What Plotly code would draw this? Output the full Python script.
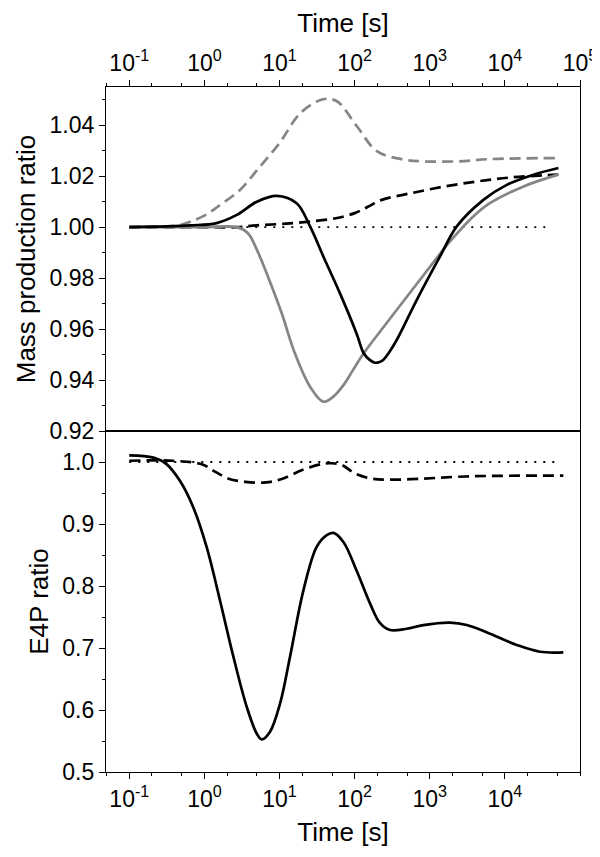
import plotly.graph_objects as go

# ---------------- data ----------------
# Top panel: mass production ratio
t_gray_dash = [0.1, 0.3, 0.5, 0.7, 1.0, 1.5, 3, 5.5, 10, 19, 38, 58, 107, 200, 450, 820, 2300, 6400, 50000]
v_gray_dash = [1.000, 1.0003, 1.001, 1.0025, 1.0045, 1.008, 1.0147, 1.0238, 1.033, 1.0448, 1.0502, 1.0494,
               1.0396, 1.0297, 1.0265, 1.0258, 1.0258, 1.0267, 1.0271]

t_black_solid = [0.1, 0.65, 1.45, 2.7, 5.0, 9.2, 16.9, 25.5, 38.3, 63.8, 106, 132, 160, 187, 215,
                 240, 290, 363, 670, 1370, 2290, 5180, 10600, 24000, 51600]
v_black_solid = [1.000, 1.0007, 1.0016, 1.0048, 1.010, 1.0123, 1.0094, 1.0003, 0.9885, 0.974, 0.9583,
                 0.9505, 0.9478, 0.9468, 0.9471, 0.9479, 0.9510, 0.9557, 0.9714, 0.9885, 1.0003,
                 1.0107, 1.0166, 1.0206, 1.0232]

t_gray_solid = [0.1, 1.0, 2.7, 3.8, 5.0, 7.3, 10.7, 16.0, 25.5, 38.3, 52, 71, 95, 132, 240, 490,
                1000, 1860, 3800, 6300, 17800, 51300]
v_gray_solid = [1.000, 1.000, 1.000, 0.9976, 0.9911, 0.9793, 0.9662, 0.9505, 0.9374, 0.9315, 0.9335,
                0.938, 0.9439, 0.9505, 0.9606, 0.9725, 0.9843, 0.9944, 1.0042, 1.0094, 1.016, 1.0206]

t_black_dash = [0.1, 1.0, 2.7, 5.0, 11.0, 25.0, 56, 100, 150, 230, 580, 1600, 4400, 12000, 51600]
v_black_dash = [1.000, 1.000, 1.000, 1.0007, 1.0013, 1.0022, 1.0035, 1.0055, 1.008, 1.0107, 1.0134,
                1.016, 1.018, 1.0195, 1.0206]

t_ref_top = [0.1, 40000]
v_ref_top = [1.0, 1.0]

# Bottom panel: E4P ratio
t_e4p_solid = [0.1, 0.21, 0.31, 0.47, 0.71, 1.07, 1.61, 2.43, 3.66, 4.97, 5.79, 7.48, 10.2, 13.8,
               20.8, 31.2, 42.5, 52.1, 70.8, 106, 160, 218, 296, 493, 822, 1860, 3110, 6350,
               14400, 29400, 60000]
v_e4p_solid = [1.0107, 1.007, 0.997, 0.970, 0.927, 0.863, 0.777, 0.686, 0.605, 0.562, 0.5526, 0.565,
               0.611, 0.686, 0.793, 0.863, 0.882, 0.8856, 0.871, 0.825, 0.772, 0.740, 0.729, 0.731,
               0.737, 0.741, 0.737, 0.723, 0.705, 0.694, 0.693]

t_e4p_dash = [0.1, 0.38, 0.94, 1.4, 2.1, 3.5, 6.6, 11, 20, 37, 50, 68, 103, 170, 280, 780, 2160,
              6000, 60000]
v_e4p_dash = [1.002, 1.002, 0.996, 0.984, 0.973, 0.968, 0.967, 0.973, 0.987, 0.997, 0.998, 0.995,
              0.981, 0.973, 0.9715, 0.973, 0.976, 0.9775, 0.978]

t_ref_bot = [0.1, 50000]
v_ref_bot = [1.0, 1.0]

x_tickvals = [0.1, 1, 10, 100, 1000, 10000, 100000]
x_ticktext = ["10<sup>-1</sup>", "10<sup>0</sup>", "10<sup>1</sup>", "10<sup>2</sup>",
              "10<sup>3</sup>", "10<sup>4</sup>", "10<sup>5</sup>"]
y_top_ticks = [0.92, 0.94, 0.96, 0.98, 1.00, 1.02, 1.04]
y_bot_ticks = [0.5, 0.6, 0.7, 0.8, 0.9, 1.0]

# ---------------- figure ----------------
BLACK = "#000000"
GRAY = "#858585"
FONT = "Arial, Liberation Sans, Helvetica, sans-serif"
TICK_SIZE = 23
TITLE_SIZE = 26

fig = go.Figure()

def add(t, v, color, dash, width, xa, ya):
    fig.add_trace(go.Scatter(x=t, y=v, mode="lines", xaxis=xa, yaxis=ya,
                             line=dict(color=color, dash=dash, width=width, shape="spline", smoothing=1.0),
                             showlegend=False, hoverinfo="skip"))

add(t_ref_top, v_ref_top, BLACK, "2px,7px", 1.8, "x", "y")
add(t_gray_dash, v_gray_dash, GRAY, "11px,6px", 2.7, "x", "y")
add(t_black_dash, v_black_dash, BLACK, "11px,6px", 2.7, "x", "y")
add(t_gray_solid, v_gray_solid, GRAY, "solid", 2.7, "x", "y")
add(t_black_solid, v_black_solid, BLACK, "solid", 2.7, "x", "y")

add(t_ref_bot, v_ref_bot, BLACK, "2px,7px", 1.8, "x2", "y2")
add(t_e4p_dash, v_e4p_dash, BLACK, "11px,6px", 2.7, "x2", "y2")
add(t_e4p_solid, v_e4p_solid, BLACK, "solid", 2.7, "x2", "y2")

split = (772 - 431) / 685.0
xrange_log = [-1.31, 5.0]

common_x = dict(type="log", range=xrange_log, tickvals=x_tickvals, ticktext=x_ticktext,
                ticks="outside", ticklen=6, tickwidth=1, tickcolor=BLACK,
                showline=True, linecolor=BLACK, linewidth=1.2, mirror=True,
                showgrid=False, zeroline=False,
                minor=dict(ticks="outside", ticklen=3, tickcolor=BLACK, showgrid=False),
                tickfont=dict(size=TICK_SIZE, color=BLACK, family=FONT))

# the page body has an 8px margin, so the figure is shrunk by 8px and its margins shifted
fig.update_layout(
    width=592, height=849,
    margin=dict(l=98, r=20, t=79, b=85, autoexpand=False),
    paper_bgcolor="white", plot_bgcolor="white",
    font=dict(family=FONT, color=BLACK),
    xaxis=dict(common_x, side="top", anchor="y",
               title=dict(text="Time [s]", font=dict(size=TITLE_SIZE, color=BLACK, family=FONT), standoff=9)),
    yaxis=dict(domain=[split, 1], range=[0.92, 1.055], tickvals=y_top_ticks,
               ticktext=[f"{v:.2f}" for v in y_top_ticks],
               ticks="outside", ticklen=6, tickcolor=BLACK,
               showline=True, linecolor=BLACK, linewidth=1.2, mirror=True,
               showgrid=False, zeroline=False,
               minor=dict(ticks="outside", ticklen=3, dtick=0.01, tick0=0.92, tickcolor=BLACK, showgrid=False),
               tickfont=dict(size=TICK_SIZE, color=BLACK, family=FONT),
               title=dict(text="Mass production ratio", font=dict(size=TITLE_SIZE, color=BLACK, family=FONT), standoff=6),
               anchor="x"),
    xaxis2=dict(common_x, side="bottom", anchor="y2",
                tickvals=x_tickvals[:-1], ticktext=x_ticktext[:-1],
                title=dict(text="Time [s]", font=dict(size=TITLE_SIZE, color=BLACK, family=FONT), standoff=12)),
    yaxis2=dict(domain=[0, split], range=[0.5, 1.05], tickvals=y_bot_ticks,
                ticktext=[f"{v:.1f}" for v in y_bot_ticks],
                ticks="outside", ticklen=6, tickcolor=BLACK,
                showline=True, linecolor=BLACK, linewidth=1.2, mirror=True,
                showgrid=False, zeroline=False,
                minor=dict(ticks="outside", ticklen=3, dtick=0.05, tick0=0.5, tickcolor=BLACK, showgrid=False),
                tickfont=dict(size=TICK_SIZE, color=BLACK, family=FONT),
                title=dict(text="E4P ratio", font=dict(size=TITLE_SIZE, color=BLACK, family=FONT), standoff=6),
                anchor="x2"),
)

fig.write_html("out.html")
